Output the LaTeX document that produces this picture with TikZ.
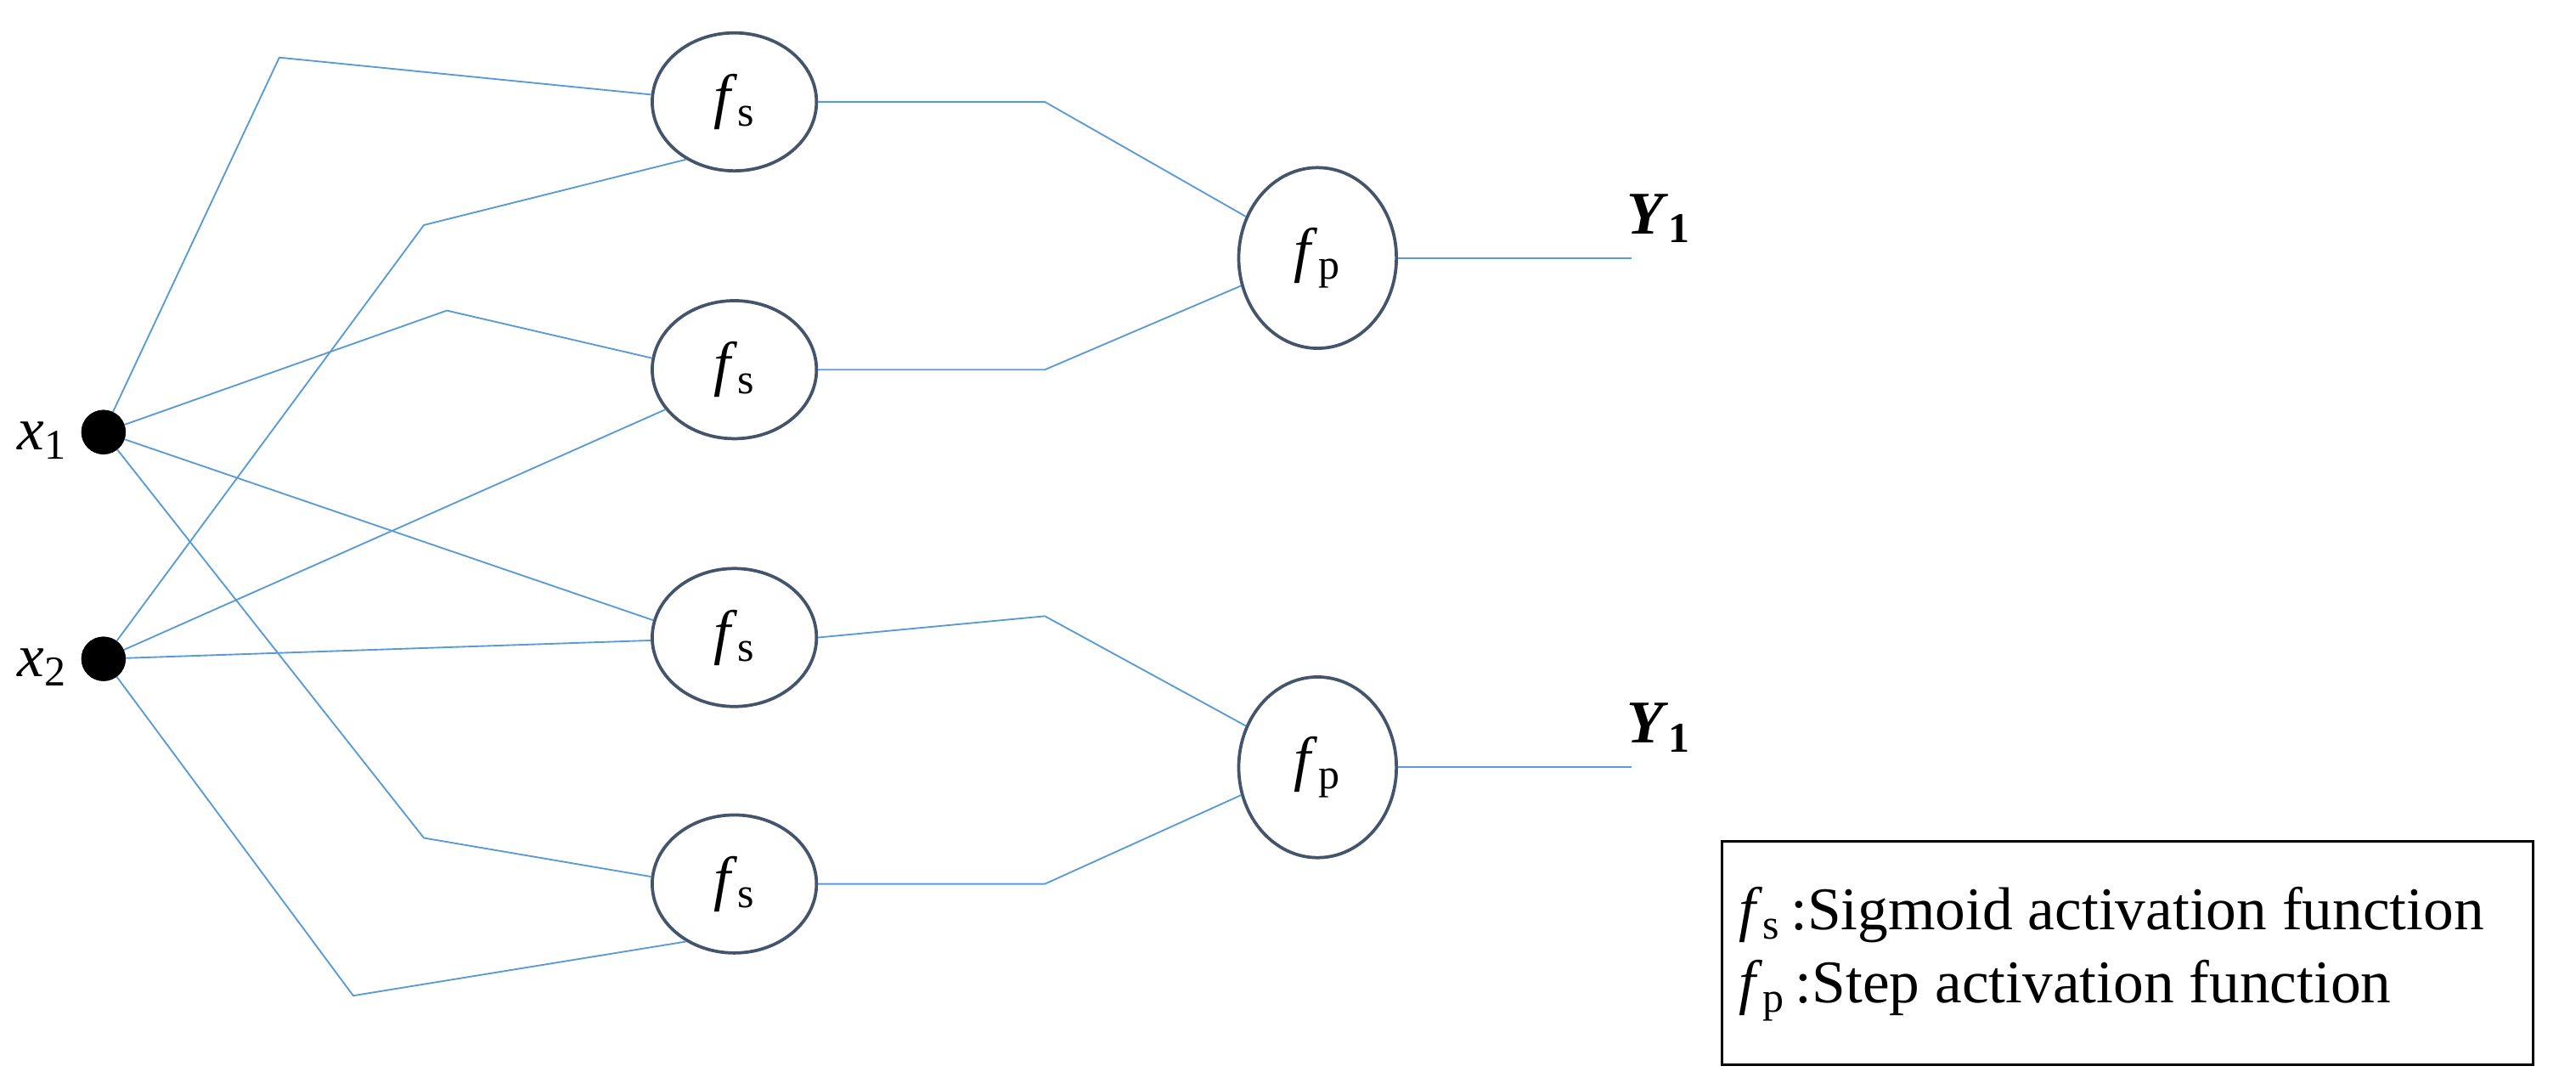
\documentclass[tikz,border=0pt]{standalone}
\usepackage{fontspec}
\setmainfont{Liberation Serif}
\usetikzlibrary{shapes.geometric}
\definecolor{wire}{RGB}{91,155,213}
\definecolor{rim}{RGB}{68,84,106}
\begin{document}
\begin{tikzpicture}[x=0.02cm,y=-0.02cm,
  font=\fontsize{21}{25}\selectfont,
  w/.style={draw=wire,line width=0.55pt},
  fs/.style={ellipse,draw=rim,line width=1.1pt,minimum width=100\pgflinewidth*0+2cm,minimum height=1.68cm,inner sep=0pt},
  fp/.style={ellipse,draw=rim,line width=1.1pt,minimum width=1.92cm,minimum height=2.2cm,inner sep=0pt},
  dot/.style={circle,fill=black,minimum size=0.54cm,inner sep=0pt}]
\useasboundingbox (0,0) rectangle (1568,659);
% nodes
\node[dot] (x1) at (63,263) {};
\node[dot] (x2) at (63,401) {};
\node[anchor=east] (lx1) at (47,268) {\textit{x}\textsubscript{1}};
\node[anchor=east] (lx2) at (47,406) {\textit{x}\textsubscript{2}};
\node[fs] (s1) at (447,62) {\textit{f}\textsubscript{s}};
\node[fs] (s2) at (447,225) {\textit{f}\textsubscript{s}};
\node[fs] (s3) at (447,388) {\textit{f}\textsubscript{s}};
\node[fs] (s4) at (447,538) {\textit{f}\textsubscript{s}};
\node[fp] (p1) at (802,157) {\textit{f}\textsubscript{p}};
\node[fp] (p2) at (802,467) {\textit{f}\textsubscript{p}};
\coordinate (o1) at (993,157);
\coordinate (o2) at (993,467);
\node[anchor=south west,inner sep=0pt] (y1) at (990,148) {\textbf{\textit{Y}\textsubscript{1}}};
\node[anchor=south west,inner sep=0pt] (y2) at (990,458) {\textbf{\textit{Y}\textsubscript{1}}};
% bends
\coordinate (a1) at (170,35);
\coordinate (a2) at (258,137);
\coordinate (a3) at (272,189);
\coordinate (a4) at (258,510);
\coordinate (a5) at (215,606);
\coordinate (b1) at (636,62);
\coordinate (b2) at (636,225);
\coordinate (b3) at (636,375);
\coordinate (b4) at (636,538);
% wires
\begin{scope}[on background layer/.style={}]
\draw[w] (x1.center) -- (a1) -- (s1.175);
\draw[w] (x2.center) -- (a2) -- (s1.-130);
\draw[w] (x1.center) -- (a3) -- (s2.172);
\draw[w] (x2.center) -- (s2.-150);
\draw[w] (x1.center) -- (s3.168);
\draw[w] (x2.center) -- (s3.182);
\draw[w] (x1.center) -- (a4) -- (s4.175);
\draw[w] (x2.center) -- (a5) -- (s4.-130);
\draw[w] (s1.east) -- (b1) -- (p1.150);
\draw[w] (s2.east) -- (b2) -- (p1.-160);
\draw[w] (s3.east) -- (b3) -- (p2.150);
\draw[w] (s4.east) -- (b4) -- (p2.-160);
\draw[w] (p1.east) -- (o1);
\draw[w] (p2.east) -- (o2);
\end{scope}
\node[dot] at (x1) {};
\node[dot] at (x2) {};
% legend
\node[draw=black,line width=1pt,minimum width=9.88cm,minimum height=2.72cm] (leg) at (1295,580) {};
\node[anchor=west,inner sep=0pt] (l1) at (1058,557) {\textit{f}\textsubscript{s}\,:Sigmoid activation function};
\node[anchor=west,inner sep=0pt] (l2) at (1058,603) {\textit{f}\textsubscript{p}\,:Step activation function};
\end{tikzpicture}
\end{document}
